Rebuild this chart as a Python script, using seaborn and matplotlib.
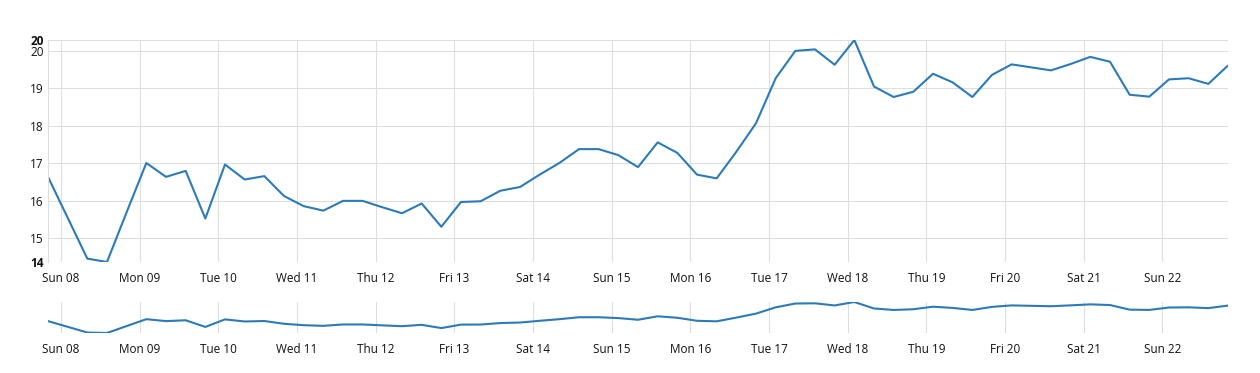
import pandas as pd
import seaborn as sns
import matplotlib
matplotlib.use('Agg')
import matplotlib.pyplot as plt
import matplotlib.dates as mdates

# 6-hourly readings, Sat 07 20:00 -> Sun 22 20:00
start = '2020-03-07 20:00'
values = [16.64, 15.55, 14.46, 14.37, 15.70, 17.01, 16.64, 16.80, 15.53, 16.97,
          16.57, 16.66, 16.13, 15.86, 15.74, 16.00, 16.00, 15.83, 15.67, 15.93,
          15.31, 15.97, 15.99, 16.27, 16.37, 16.70, 17.01, 17.38, 17.38, 17.22,
          16.90, 17.56, 17.28, 16.70, 16.60, 17.31, 18.07, 19.27, 20.00, 20.04,
          19.63, 20.29, 19.05, 18.77, 18.91, 19.39, 19.16, 18.77, 19.36, 19.64,
          19.56, 19.48, 19.65, 19.84, 19.71, 18.83, 18.78, 19.24, 19.27, 19.12,
          19.61]
y_ticks = [15, 16, 17, 18, 19, 20]

df = pd.DataFrame({'time': pd.date_range(start, periods=len(values), freq='6h'),
                   'value': values})

sns.set_style('white')
plt.rcParams['font.family'] = ['Open Sans', 'DejaVu Sans']

line_color = '#2b7bba'
grid_color = '#dedede'

fig = plt.figure(figsize=(12.6, 3.73), dpi=100)
ax = fig.add_axes([48/1260, 1-262/373, 1180/1260, 222/373])
nav = fig.add_axes([48/1260, 1-333/373, 1180/1260, 31/373])

ymin, ymax = df['value'].min(), df['value'].max()

for a in (ax, nav):
    sns.lineplot(data=df, x='time', y='value', ax=a, color=line_color, lw=1.5)
    a.set_xlim(df['time'].iloc[0], df['time'].iloc[-1])
    a.set_ylim(ymin, ymax)
    a.xaxis.set_major_locator(mdates.DayLocator())
    a.xaxis.set_major_formatter(mdates.DateFormatter('%a %d'))
    a.set_xlabel('')
    a.set_ylabel('')
    a.grid(True, axis='x', color=grid_color, lw=0.8)
    a.tick_params(axis='both', length=0, labelsize=8.5, colors='#111111')
    a.tick_params(axis='x', pad=7)
    for s in a.spines.values():
        s.set_visible(False)

# main chart: horizontal grid + min/max labels in bold
ax.grid(True, axis='y', color=grid_color, lw=0.8)
ax.spines['left'].set_visible(True)
ax.spines['left'].set_color(grid_color)
ax.set_yticks([ymin] + y_ticks + [ymax])
ax.set_yticklabels([str(int(ymin))] + [str(t) for t in y_ticks] + [str(int(ymax))])
ax.tick_params(axis='y', pad=3)
ax.get_yticklabels()[0].set_fontweight('bold')
ax.get_yticklabels()[-1].set_fontweight('bold')

nav.set_yticks([])

fig.savefig('out.png', dpi=100)
